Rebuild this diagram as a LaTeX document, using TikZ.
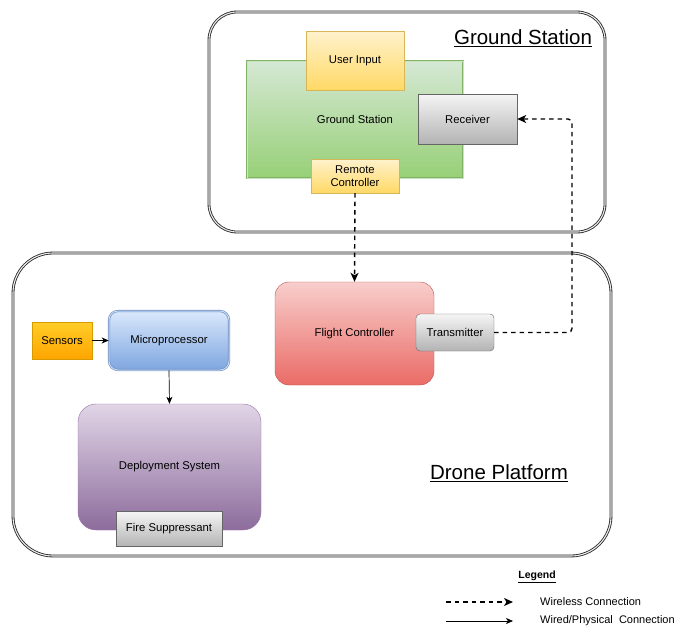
\documentclass[tikz,border=0pt]{standalone}
\usepackage{fontspec}
\setmainfont{Liberation Sans}
\usetikzlibrary{arrows.meta}
\definecolor{outerline}{HTML}{2A2A2A}
\tikzset{
  every node/.style={font=\fontsize{11.3}{13}\selectfont, text=black, inner sep=0pt},
  outerbox/.style={draw=outerline, line width=0.85pt, double={rgb,255:red,235;green,235;blue,235}, double distance=1.1pt},
  greenbox/.style={draw={rgb,255:red,130;green,179;blue,102}, double={rgb,255:red,200;green,228;blue,190}, double distance=1pt, line width=0.6pt, top color={rgb,255:red,213;green,232;blue,212}, bottom color={rgb,255:red,151;green,208;blue,119}},
  yellowbox/.style={draw={rgb,255:red,214;green,182;blue,86}, top color={rgb,255:red,255;green,242;blue,204}, bottom color={rgb,255:red,255;green,217;blue,102}},
  greybox/.style={draw={rgb,255:red,102;green,102;blue,102}, top color={rgb,255:red,245;green,245;blue,245}, bottom color={rgb,255:red,179;green,179;blue,179}},
  orangebox/.style={draw={rgb,255:red,215;green,155;blue,0}, top color={rgb,255:red,255;green,205;blue,40}, bottom color={rgb,255:red,255;green,165;blue,0}},
  bluebox/.style={draw={rgb,255:red,108;green,142;blue,191}, double={rgb,255:red,200;green,218;blue,245}, double distance=1pt, line width=0.6pt, top color={rgb,255:red,218;green,232;blue,252}, bottom color={rgb,255:red,126;green,166;blue,224}},
  redbox/.style={draw={rgb,255:red,184;green,84;blue,80}, top color={rgb,255:red,248;green,206;blue,204}, bottom color={rgb,255:red,234;green,107;blue,102}},
  purplebox/.style={draw={rgb,255:red,150;green,115;blue,166}, top color={rgb,255:red,225;green,213;blue,231}, bottom color={rgb,255:red,140;green,108;blue,156}},
  wireless/.style={draw=black, line width=1.4pt, dash pattern=on 4.5pt off 4pt, -{Stealth[length=9pt,width=8pt,inset=2.5pt]}, rounded corners=4pt},
  wired/.style={draw=black, line width=0.7pt, -{Stealth[length=7pt,width=6pt,inset=2pt]}},
  title/.style={font=\fontsize{20.5}{24}\selectfont},
}
\begin{document}
\begin{tikzpicture}[x=1pt,y=-1pt]
\useasboundingbox (0,0) rectangle (683,627);
% outer containers
\node[outerbox, rounded corners=28pt, minimum width=396pt, minimum height=220pt] (gsouter) at (407,122) {};
\node[outerbox, rounded corners=40pt, minimum width=598pt, minimum height=303pt] (dpouter) at (312,404.5) {};
% ground station
\node[greenbox, minimum width=216pt, minimum height=117pt] (gsbox) at (355,119.5) {Ground Station};
\node[yellowbox, minimum width=98pt, minimum height=59pt] (userin) at (355,60.5) {User Input};
\node[greybox, minimum width=99pt, minimum height=50pt] (recv) at (467.5,119) {Receiver};
\node[yellowbox, minimum width=88pt, minimum height=34pt, align=center, font=\fontsize{11.3}{12.8}\selectfont] (remote) at (355,176) {Remote\\Controller};
\node[title] (gstitle) at (523,38) {\underline{Ground Station}};
% drone platform
\node[redbox, rounded corners=14pt, minimum width=159pt, minimum height=103pt] (fc) at (354.5,333.5) {Flight Controller};
\node[greybox, rounded corners=4pt, minimum width=78pt, minimum height=37pt] (tx) at (455,332.5) {Transmitter};
\node[orangebox, minimum width=60pt, minimum height=37pt] (sensors) at (62,340.5) {Sensors};
\node[bluebox, rounded corners=9pt, minimum width=120pt, minimum height=59pt] (micro) at (169,340.5) {Microprocessor};
\node[purplebox, rounded corners=18pt, minimum width=183pt, minimum height=126pt] (deploy) at (169.5,467) {Deployment System};
\node[greybox, minimum width=106pt, minimum height=35pt] (fire) at (169,529) {Fire Suppressant};
\node[title] (dptitle) at (499,473) {\underline{Drone Platform}};
% connectors
\draw[wireless] (remote.south) -- (fc.north);
\coordinate (c1) at (572,332.5);
\coordinate (c2) at (572,119);
\draw[wireless] (tx.east) -- (c1) -- (c2) -- (recv.east);
\draw[wired] (sensors.east) -- (micro.west);
\draw[wired] (micro.south) -- (deploy.north);
% legend
\node[font=\bfseries\fontsize{10.5}{12}\selectfont] (legend) at (537,577) {\underline{Legend}};
\coordinate (la) at (446,602);
\coordinate (lb) at (513,602);
\coordinate (lc) at (446,621);
\coordinate (ld) at (513,621);
\draw[wireless] (la) -- (lb);
\draw[wired] (lc) -- (ld);
\node[anchor=west, font=\fontsize{11}{13}\selectfont] (lw) at (540,602) {Wireless Connection};
\node[anchor=west, font=\fontsize{11}{13}\selectfont] (lp) at (540,621) {Wired/Physical\ \ Connection};
\end{tikzpicture}
\end{document}
